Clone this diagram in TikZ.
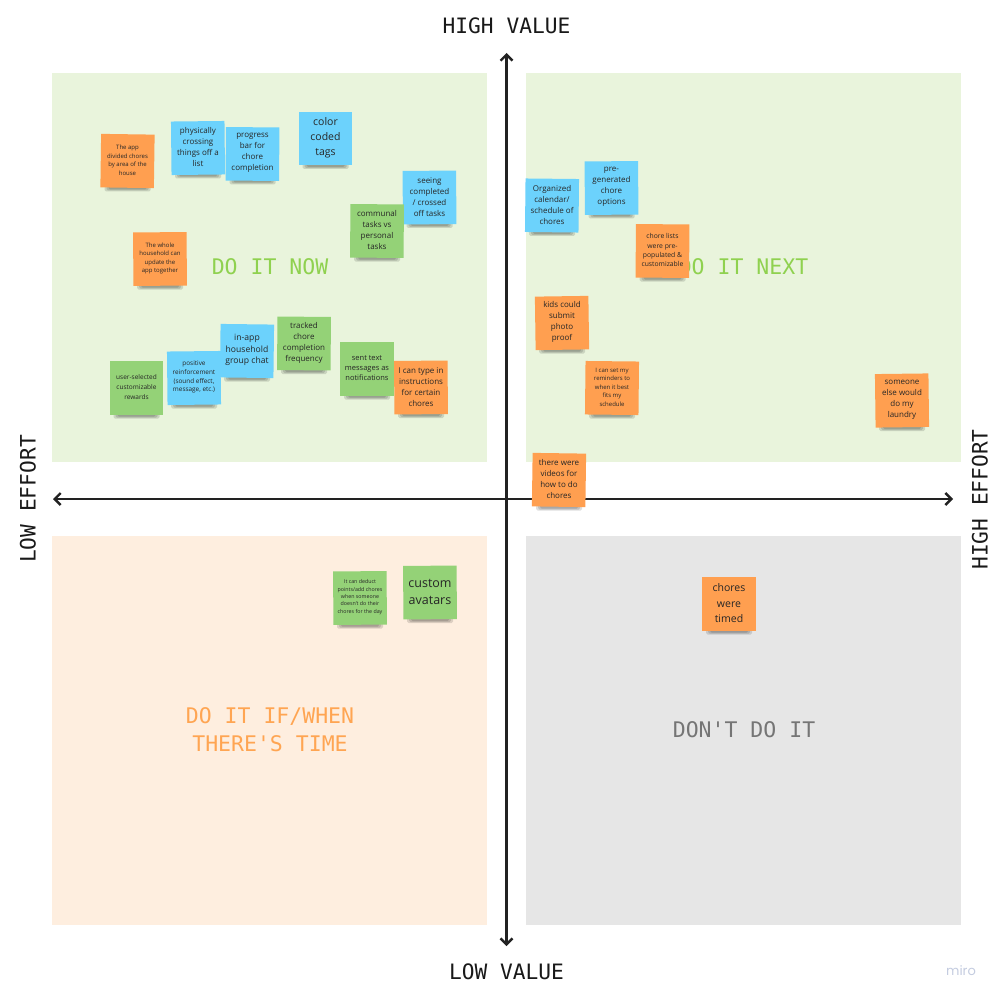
\documentclass[tikz,border=0pt]{standalone}
\usepackage{fontspec}
\setmainfont{Open Sans}
\newfontfamily\labelfont{DejaVu Sans Mono}
\newfontfamily\brandfont{Poppins}
\usetikzlibrary{arrows.meta}
\definecolor{bgGreen}{HTML}{E9F4DC}
\definecolor{bgOrange}{HTML}{FEEEDF}
\definecolor{bgGrey}{HTML}{E6E6E6}
\definecolor{noteBlue}{HTML}{6CD2FC}
\definecolor{noteOrange}{HTML}{FF9F50}
\definecolor{noteGreen}{HTML}{94D277}
\definecolor{axisInk}{HTML}{222222}
\definecolor{txtGreen}{HTML}{8FD14F}
\definecolor{txtOrange}{HTML}{FFA552}
\definecolor{txtGrey}{HTML}{757575}
\definecolor{miroInk}{HTML}{C4CCE0}
\tikzset{
  quadrant/.style={draw=none,minimum width=435pt,minimum height=389pt,inner sep=0pt},
  quadtitle/.style={font=\labelfont\fontsize{21.5}{28}\selectfont,align=center},
  axislabel/.style={font=\labelfont\fontsize{21.2}{26}\selectfont,text=black!90},
  axisline/.style={draw=axisInk,line width=2.6pt,{Straight Barb[length=6pt,width=12pt,line width=2.4pt]}-{Straight Barb[length=6pt,width=12pt,line width=2.4pt]}},
  notebase/.style={minimum width=53.5pt,minimum height=53.5pt,inner sep=0pt},
  note/.style={inner sep=0pt,align=center,text=black!85},
  noteB/.style={notebase,fill=noteBlue},
  noteO/.style={notebase,fill=noteOrange},
  noteG/.style={notebase,fill=noteGreen},
  txtXL/.style={font=\fontsize{12.5}{17}\selectfont},
  txtL/.style={font=\fontsize{10.5}{15.2}\selectfont},
  txtM/.style={font=\fontsize{8.6}{11.5}\selectfont},
  txtN/.style={font=\fontsize{8}{11}\selectfont},
  txtC/.style={font=\fontsize{7.5}{9.7}\selectfont},
  txtS/.style={font=\fontsize{6.5}{10}\selectfont},
  txtR/.style={font=\fontsize{6.8}{9.4}\selectfont},
  txtP/.style={font=\fontsize{6.4}{8.8}\selectfont},
  txtT/.style={font=\fontsize{6}{8.5}\selectfont},
  txtU/.style={font=\fontsize{5.3}{7.4}\selectfont},
  noteshade/.style={fill=black,opacity=0.13,rounded corners=1.5pt,draw=none},
}
% name, x, y, rotation, colour style, text style, text
\newcommand{\stickynote}[7]{%
  \fill[noteshade] (#2-23,#3+25) rectangle (#2+23,#3+30.5);
  \fill[noteshade] (#2-21,#3+25) rectangle (#2+21,#3+29.5);
  \fill[noteshade] (#2-19,#3+25) rectangle (#2+19,#3+28.5);
  \node[#5,rotate=#4] (#1bg) at (#2,#3) {};
  \node[note,#6] (#1) at (#2,#3-0.8) {#7};
}
\begin{document}
\begin{tikzpicture}[x=1pt,y=-1pt]
\useasboundingbox[fill=white] (0,0) rectangle (1000,1000);

\node[quadrant,fill=bgGreen]  (qNow)  at (269.5,267.5) {};
\node[quadrant,fill=bgGreen]  (qNext) at (743.5,267.5) {};
\node[quadrant,fill=bgOrange] (qIf)   at (269.5,730.5) {};
\node[quadrant,fill=bgGrey]   (qDont) at (743.5,730.5) {};

\node[quadtitle,text=txtGreen]  (tNow)  at (270,267) {DO IT NOW};
\node[quadtitle,text=txtGreen]  (tNext) at (743.5,267) {DO IT NEXT};
\node[quadtitle,text=txtOrange] (tIf)   at (270,730) {DO IT IF/WHEN\\THERE'S TIME};
\node[quadtitle,text=txtGrey]   (tDont) at (744,729.5) {DON'T DO IT};

\coordinate (top) at (506.5,53);
\coordinate (bottom) at (506.5,946);
\coordinate (left) at (53,499);
\coordinate (right) at (953,499);
\draw[axisline] (bottom) -- (top);
\draw[axisline] (left) -- (right);

\node[axislabel] (lHigh) at (506.5,26) {HIGH VALUE};
\node[axislabel] (lLow)  at (506.5,972) {LOW VALUE};
\node[axislabel,rotate=90] (lLowE)  at (28,499) {LOW EFFORT};
\node[axislabel,rotate=90] (lHighE) at (980,499.5) {HIGH EFFORT};

\stickynote{n1}{127.5}{161}{-0.8}{noteO}{txtT}{The app\\divided chores\\by area of the\\house}
\stickynote{n2}{198}{148}{0.6}{noteB}{txtN}{physically\\crossing\\things off a\\list}
\stickynote{n3}{252.5}{154}{-0.4}{noteB}{txtN}{progress\\bar for\\chore\\completion}
\stickynote{n4}{325.5}{138.5}{0}{noteB}{txtL}{color\\coded\\tags}
\stickynote{n5}{429.5}{197.5}{0.4}{noteB}{txtN}{seeing\\completed\\/ crossed\\off tasks}
\stickynote{n6}{377}{231}{-0.5}{noteG}{txtN}{communal\\tasks vs\\personal\\tasks}
\stickynote{n7}{160}{259}{0.5}{noteO}{txtT}{The whole\\household can\\update the\\app together}
\stickynote{n8}{136.5}{388}{0}{noteG}{txtS}{user-selected\\customizable\\rewards}
\stickynote{n9}{194}{378}{0.6}{noteB}{txtP}{positive\\reinforcement\\(sound effect,\\message, etc.)}
\stickynote{n10}{247}{351}{-0.7}{noteB}{txtM}{in-app\\household\\group chat}
\stickynote{n11}{304}{343.5}{-0.4}{noteG}{txtN}{tracked\\chore\\completion\\frequency}
\stickynote{n12}{367}{369}{0}{noteG}{txtC}{sent text\\messages as\\notifications}
\stickynote{n13}{421}{387.5}{0.5}{noteO}{txtN}{I can type in\\instructions\\for certain\\chores}
\stickynote{n14}{552}{205.5}{-0.6}{noteB}{txtN}{Organized\\calendar/\\schedule of\\chores}
\stickynote{n15}{611.5}{188}{0.5}{noteB}{txtN}{pre-\\generated\\chore\\options}
\stickynote{n16}{662.5}{251}{-0.5}{noteO}{txtR}{chore lists\\were pre-\\populated \&\\customizable}
\stickynote{n17}{562}{323}{0.8}{noteO}{txtN}{kids could\\submit\\photo\\proof}
\stickynote{n18}{612}{388}{-0.6}{noteO}{txtT}{I can set my\\reminders to\\when it best\\fits my\\schedule}
\stickynote{n19}{902}{400.5}{0.7}{noteO}{txtN}{someone\\else would\\do my\\laundry}
\stickynote{n20}{559}{480}{-0.8}{noteO}{txtN}{there were\\videos for\\how to do\\chores}
\stickynote{n21}{360}{598}{0.5}{noteG}{txtU}{It can deduct\\points/add chores\\when someone\\doesn't do their\\chores for the day}
\stickynote{n22}{430}{592.5}{0.5}{noteG}{txtXL}{custom\\avatars}
\stickynote{n23}{729}{604}{0}{noteO}{txtL}{chores\\were\\timed}

\node[font=\brandfont\fontsize{13}{15}\selectfont,text=miroInk] (miro) at (961,971) {miro};
\end{tikzpicture}
\end{document}
